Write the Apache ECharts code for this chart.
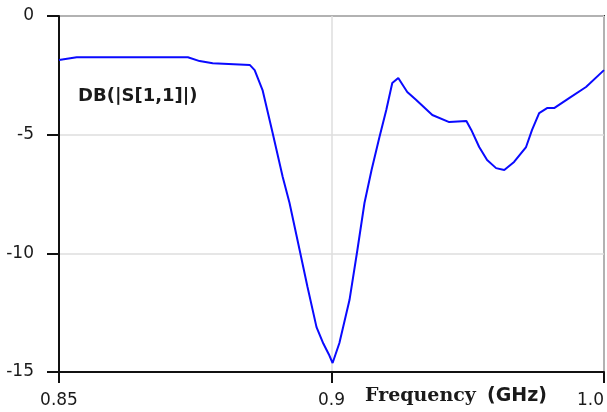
<!DOCTYPE html>
<html>
<head>
<meta charset="utf-8">
<script src="https://cdn.jsdelivr.net/npm/echarts@6/dist/echarts.min.js"></script>
<style>
html,body{margin:0;padding:0;background:#fff;}
#c{width:607px;height:412px;}
</style>
</head>
<body>
<div id="c"></div>
<script>
// Frequency positions on the chart's axis scale (left edge = 0.8 on the internal scale, labelled "0.85")
var freq = [0.8000,0.8065,0.8473,0.8516,0.8564,0.8700,0.8718,0.8747,0.8784,0.8821,0.8846,0.8883,0.8912,0.8945,0.8970,0.8990,0.9004,0.9029,0.9066,0.9095,0.9121,0.9147,0.9176,0.9201,0.9223,0.9245,0.9278,0.9311,0.9370,0.9432,0.9495,0.9513,0.9542,0.9571,0.9604,0.9634,0.9670,0.9714,0.9736,0.9762,0.9791,0.9817,0.9872,0.9934,1.0000];
var s11dB = [-1.85,-1.74,-1.74,-1.90,-1.99,-2.06,-2.28,-3.12,-4.93,-6.78,-7.88,-9.86,-11.42,-13.11,-13.80,-14.25,-14.62,-13.78,-11.97,-9.86,-7.88,-6.49,-5.10,-3.96,-2.82,-2.61,-3.20,-3.54,-4.17,-4.47,-4.42,-4.80,-5.52,-6.07,-6.41,-6.49,-6.15,-5.52,-4.80,-4.09,-3.88,-3.88,-3.46,-2.99,-2.28];
var xTickValues = [0.8, 0.9, 1.0];
var xTickLabels = ['0.85', '0.9', '1.0'];
var yTickLabels = ['0', '-5', '-10', '-15'];
var seriesName = 'DB(|S[1,1]|)';
var xTitle = 'Frequency';
var xUnit = '(GHz)';

var pts = freq.map(function (f, i) { return [f, s11dB[i]]; });

var chart = echarts.init(document.getElementById('c'), null, {renderer: 'canvas'});
chart.setOption({
  animation: false,
  backgroundColor: '#fff',
  grid: {left: 59, top: 16, right: 2, bottom: 40, show: true, borderColor: '#333', borderWidth: 2, backgroundColor: 'transparent'},
  xAxis: {
    type: 'value', min: 0.8, max: 1.0, interval: 0.1,
    axisLine: {show: true, onZero: false, lineStyle: {color: '#111', width: 2}},
    axisTick: {show: true, inside: false, length: 11, lineStyle: {color: '#111', width: 2}},
    splitLine: {show: true, lineStyle: {color: '#dedede', width: 1.5}},
    axisLabel: {
      margin: 20, color: '#1a1a1a', fontFamily: 'DejaVu Sans', fontSize: 17,
      alignMaxLabel: 'right',
      formatter: function (v) {
        for (var i = 0; i < xTickValues.length; i++) {
          if (Math.abs(xTickValues[i] - v) < 1e-6) return xTickLabels[i];
        }
        return '';
      }
    }
  },
  yAxis: {
    type: 'value', min: -15, max: 0, interval: 5,
    axisLine: {show: true, onZero: false, lineStyle: {color: '#111', width: 2}},
    axisTick: {show: true, inside: false, length: 12, lineStyle: {color: '#111', width: 2}},
    splitLine: {show: true, lineStyle: {color: '#dedede', width: 1.5}},
    axisLabel: {
      margin: 25, color: '#1a1a1a', fontFamily: 'DejaVu Sans', fontSize: 17, padding: [4, 0, 0, 0],
      formatter: function (v) {
        var idx = Math.round(-v / 5);
        return yTickLabels[idx] !== undefined ? yTickLabels[idx] : String(v);
      }
    }
  },
  series: [{
    name: seriesName, type: 'line', data: pts, showSymbol: false, symbol: 'none',
    lineStyle: {color: '#0a0aff', width: 2}, smooth: false
  }],
  graphic: [
    {type: 'text', left: 78, top: 87, style: {text: seriesName, font: 'bold 18px "DejaVu Sans"', fill: '#1a1a1a'}},
    {type: 'text', left: 365, top: 387, style: {text: xTitle, font: 'bold 19px "DejaVu Serif"', fill: '#1a1a1a'}},
    {type: 'text', left: 487, top: 387, style: {text: xUnit, font: 'bold 19px "DejaVu Sans"', fill: '#1a1a1a'}}
  ]
});
</script>
</body>
</html>
